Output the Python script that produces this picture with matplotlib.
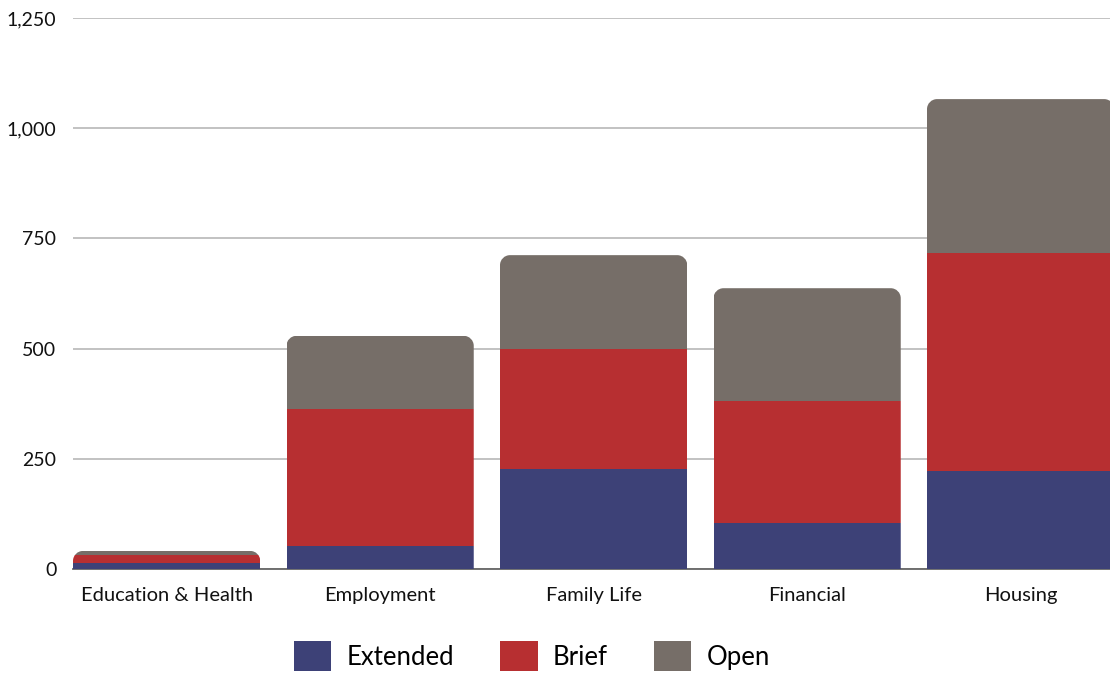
import matplotlib
matplotlib.use("Agg")
import matplotlib.pyplot as plt
from matplotlib.path import Path
from matplotlib.patches import PathPatch, Patch

categories = ["Education & Health", "Employment", "Family Life", "Financial", "Housing"]
extended = [14, 52, 227, 104, 222]
brief = [17, 311, 272, 277, 495]
open_ = [10, 166, 213, 256, 349]
series_names = ["Extended", "Brief", "Open"]
colors = ["#3d4177", "#b72f31", "#766e68"]
yticks = [0, 250, 500, 750, 1000, 1250]

plt.rcParams['font.family'] = ['Lato', 'DejaVu Sans']

W, H = 1110, 678
fig = plt.figure(figsize=(W / 100, H / 100), dpi=100)
left, right, bottom, top = 73 / W, 1.0, (H - 569) / H, (H - 18) / H
ax = fig.add_axes([left, bottom, right - left, top - bottom])

bw = 0.877
xlim = (-bw / 2, -bw / 2 + (1110 - 73) / 213.5)
ylim = (0, 1250)
ax.set_xlim(*xlim)
ax.set_ylim(*ylim)

ax_w_px = (right - left) * W
ax_h_px = (top - bottom) * H
rx = 10 * (xlim[1] - xlim[0]) / ax_w_px
ry = 10 * (ylim[1] - ylim[0]) / ax_h_px

x = list(range(len(categories)))
bottoms = [0] * len(categories)
bar_groups = []
for vals, c, name in zip([extended, brief, open_], colors, series_names):
    bars = ax.bar(x, vals, width=bw, bottom=bottoms, color=c, label=name, zorder=3, linewidth=0)
    bar_groups.append(bars)
    bottoms = [b + v for b, v in zip(bottoms, vals)]

# rounded top clip path for each stack
for i, tot in enumerate(bottoms):
    x0, x1 = i - bw / 2, i + bw / 2
    r_y = min(ry, tot)
    k = 0.5523
    verts = [
        (x0, 0), (x1, 0), (x1, tot - r_y),
        (x1, tot - r_y + k * r_y), (x1 - rx + k * rx, tot), (x1 - rx, tot),
        (x0 + rx, tot),
        (x0 + rx - k * rx, tot), (x0, tot - r_y + k * r_y), (x0, tot - r_y),
        (x0, 0),
    ]
    codes = [Path.MOVETO, Path.LINETO, Path.LINETO,
             Path.CURVE4, Path.CURVE4, Path.CURVE4,
             Path.LINETO,
             Path.CURVE4, Path.CURVE4, Path.CURVE4,
             Path.CLOSEPOLY]
    clip = PathPatch(Path(verts, codes), transform=ax.transData, facecolor='none', edgecolor='none')
    ax.add_patch(clip)
    for bars in bar_groups:
        bars[i].set_clip_path(clip)

ax.set_yticks(yticks)
ax.set_yticklabels([f"{v:,}" for v in yticks])
ax.set_xticks(x)
ax.set_xticklabels(categories)
ax.yaxis.grid(True, color="#bdbdbd", linewidth=1.3, zorder=0)
ax.set_axisbelow(True)
for s in ["top", "right", "left"]:
    ax.spines[s].set_visible(False)
ax.spines["bottom"].set_color("#666666")
ax.spines["bottom"].set_linewidth(1.3)
ax.spines["bottom"].set_zorder(2)
ax.tick_params(axis='both', length=0, colors="#111111")
ax.tick_params(axis='x', labelsize=14.5, pad=13)
ax.tick_params(axis='y', labelsize=14, pad=12)

handles = [Patch(facecolor=c, label=n) for c, n in zip(colors, series_names)]
fig.legend(handles=handles, loc='center', bbox_to_anchor=(532 / W, 1 - 656 / H),
           ncol=3, frameon=False, fontsize=18.5, handlelength=1.45, handleheight=1.45,
           handletextpad=0.6, columnspacing=1.8, borderaxespad=0)

fig.savefig("out.png", dpi=100)
